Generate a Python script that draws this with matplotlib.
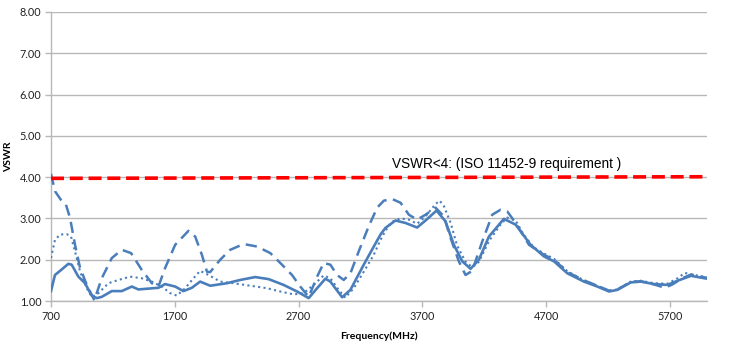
import matplotlib
matplotlib.use("Agg")
import matplotlib.pyplot as plt

# VSWR measurements, three antenna configurations
freq_solid = [700, 732, 773, 840, 867, 921, 975, 1029, 1070, 1110, 1191, 1272, 1353, 1406,
              1568, 1622, 1703, 1770, 1838, 1905, 1986, 2121, 2229, 2350, 2458, 2579, 2688,
              2782, 2850, 2917, 2957, 3052, 3119, 3227, 3308, 3362, 3402, 3483, 3564, 3658,
              3726, 3815, 3887, 3955, 4023, 4090, 4157, 4238, 4359, 4454, 4575, 4683, 4764,
              4872, 5006, 5114, 5209, 5276, 5384, 5465, 5573, 5681, 5762, 5870, 6000]
vswr_solid = [1.24, 1.63, 1.73, 1.90, 1.88, 1.59, 1.43, 1.13, 1.07, 1.10, 1.24, 1.24, 1.35, 1.28,
              1.32, 1.41, 1.35, 1.24, 1.32, 1.47, 1.37, 1.43, 1.51, 1.58, 1.53, 1.39, 1.23,
              1.07, 1.31, 1.54, 1.47, 1.09, 1.27, 1.88, 2.32, 2.61, 2.77, 2.95, 2.89, 2.78,
              2.95, 3.19, 2.93, 2.36, 1.96, 1.78, 2.00, 2.56, 2.99, 2.85, 2.36, 2.08, 1.96,
              1.67, 1.47, 1.35, 1.23, 1.27, 1.45, 1.47, 1.41, 1.39, 1.49, 1.61, 1.54]

freq_dashed = [700, 732, 787, 820, 854, 894, 935, 989, 1050, 1110, 1191, 1272, 1347, 1434,
               1515, 1568, 1622, 1703, 1811, 1865, 1919, 1960, 1986, 2067, 2148, 2256, 2364,
               2472, 2566, 2647, 2714, 2782, 2850, 2903, 2957, 3011, 3065, 3119, 3186, 3267,
               3335, 3389, 3456, 3524, 3591, 3658, 3726, 3807, 3874, 3928, 3995, 4049, 4103,
               4184, 4265, 4332, 4386, 4454, 4562, 4683, 4764, 4872, 5006, 5114, 5209, 5276,
               5384, 5465, 5573, 5660, 5720, 5800, 5870, 6000]
vswr_dashed = [4.08, 3.66, 3.42, 3.34, 3.01, 2.36, 1.80, 1.39, 1.02, 1.55, 2.04, 2.24, 2.16, 1.75,
               1.43, 1.35, 1.80, 2.36, 2.70, 2.56, 2.12, 1.71, 1.70, 2.00, 2.24, 2.38, 2.32,
               2.16, 1.88, 1.63, 1.35, 1.10, 1.59, 1.92, 1.88, 1.63, 1.51, 1.67, 2.20, 2.81,
               3.26, 3.43, 3.47, 3.38, 3.09, 2.97, 3.09, 3.26, 3.05, 2.53, 1.96, 1.63, 1.73,
               2.44, 3.09, 3.21, 3.17, 2.89, 2.36, 2.12, 2.00, 1.70, 1.50, 1.37, 1.25, 1.28,
               1.46, 1.48, 1.40, 1.32, 1.40, 1.55, 1.64, 1.56]

freq_dotted = [700, 732, 773, 827, 862, 894, 935, 989, 1029, 1083, 1164, 1245, 1339, 1434,
               1515, 1595, 1663, 1717, 1784, 1851, 1905, 1973, 2067, 2175, 2310, 2445, 2553,
               2660, 2741, 2822, 2903, 2957, 3024, 3078, 3146, 3227, 3308, 3362, 3402, 3456,
               3524, 3591, 3658, 3726, 3807, 3840, 3874, 3928, 3980, 4049, 4103, 4157, 4238,
               4332, 4386, 4454, 4520, 4600, 4683, 4764, 4872, 5006, 5114, 5209, 5276, 5384,
               5465, 5573, 5681, 5762, 5820, 5900, 6000]
vswr_dotted = [2.04, 2.48, 2.61, 2.62, 2.56, 2.20, 1.71, 1.31, 1.10, 1.19, 1.43, 1.51, 1.59, 1.55,
               1.47, 1.35, 1.19, 1.13, 1.31, 1.55, 1.73, 1.63, 1.47, 1.43, 1.37, 1.31, 1.23,
               1.16, 1.19, 1.39, 1.62, 1.55, 1.27, 1.08, 1.31, 1.71, 2.12, 2.48, 2.70, 2.92,
               3.00, 2.97, 2.87, 3.05, 3.35, 3.43, 3.30, 2.90, 2.35, 1.95, 1.82, 1.95, 2.45,
               2.85, 3.02, 2.95, 2.60, 2.30, 2.15, 2.02, 1.72, 1.50, 1.37, 1.25, 1.28, 1.47,
               1.49, 1.43, 1.42, 1.55, 1.68, 1.63, 1.57]

# ISO 11452-9 limit line
freq_limit = [700, 6000]
vswr_limit = [3.97, 4.01]
limit_label = "VSWR<4: (ISO 11452-9 requirement )"

x_ticks = [700, 1700, 2700, 3700, 4700, 5700]
y_ticks = [1, 2, 3, 4, 5, 6, 7, 8]

blue = "#4A7EBB"

fig = plt.figure(figsize=(7.32, 3.5), dpi=100)
ax = fig.add_axes([51 / 732, 1 - 301 / 350, 656 / 732, 289 / 350])

ax.plot(freq_dotted, vswr_dotted, color=blue, lw=1.5, ls=(0, (1, 1.6)), zorder=3)
ax.plot(freq_dashed, vswr_dashed, color=blue, lw=1.8, ls=(0, (4.5, 2.6)), zorder=3)
ax.plot(freq_solid, vswr_solid, color=blue, lw=1.9, zorder=4)
ax.plot(freq_limit, vswr_limit, color="#FF0000", lw=2.6, ls=(0, (3.6, 1.6)), zorder=5)

ax.text(3451, 4.33, limit_label, fontsize=9.8, family="Liberation Sans",
        color="black", ha="left", va="center")

ax.set_xlim(700, 6000)
ax.set_ylim(1, 8)
ax.set_xticks(x_ticks)
ax.set_xticklabels([str(v) for v in x_ticks])
ax.set_yticks(y_ticks)
ax.set_yticklabels([f"{v:.2f}" for v in y_ticks])

ax.yaxis.grid(True, color="#B8B8B8", lw=1.0)
ax.set_axisbelow(True)
for side in ("top", "right"):
    ax.spines[side].set_visible(False)
for side in ("left", "bottom"):
    ax.spines[side].set_color("#B8B8B8")
    ax.spines[side].set_linewidth(1.0)

ax.tick_params(axis="both", which="major", direction="out", length=4, width=1.0,
               color="#B8B8B8", labelsize=7.8, labelcolor="#222222", pad=3)
for lbl in ax.get_xticklabels() + ax.get_yticklabels():
    lbl.set_family("Lato")

ax.set_xlabel("Frequency(MHz)", fontsize=7.5, fontweight="bold", family="Lato", labelpad=7)
ax.set_ylabel("VSWR", fontsize=7.5, fontweight="bold", family="Lato", labelpad=5)

fig.savefig("out.png", dpi=100)
